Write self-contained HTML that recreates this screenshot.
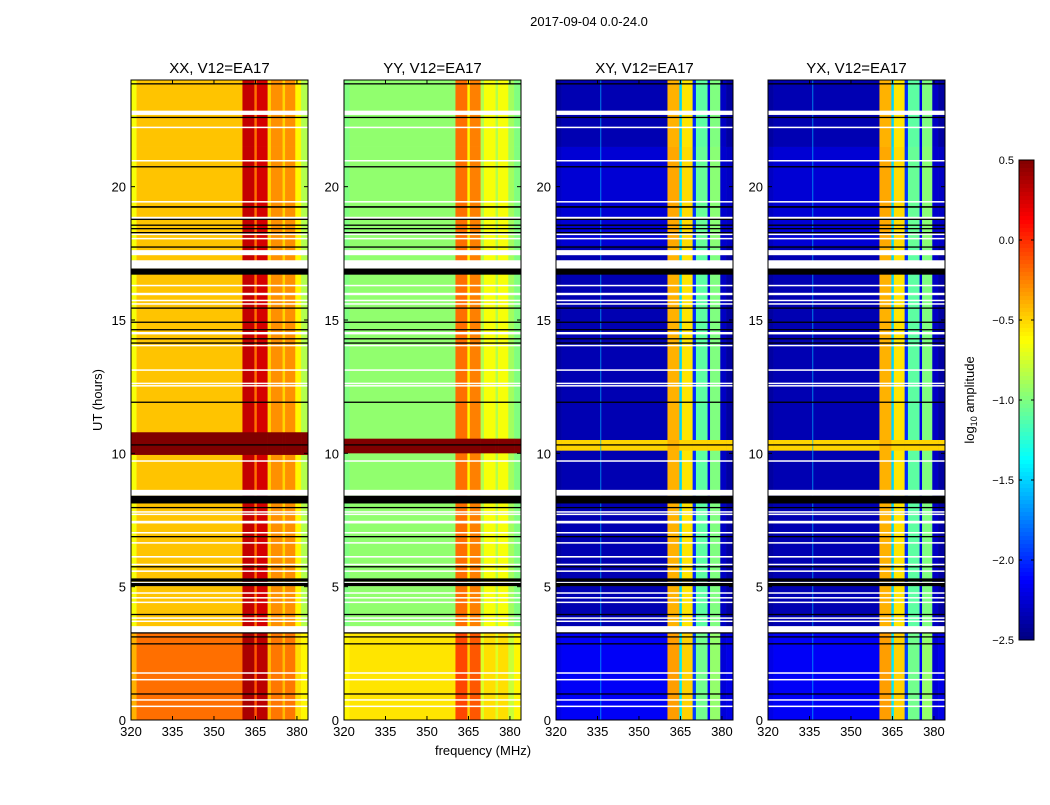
<!DOCTYPE html>
<html><head><meta charset="utf-8">
<style>
body{margin:0;background:#fff;}
svg text{font-family:"Liberation Sans",sans-serif;}
</style></head>
<body>
<svg id="fig" width="1050" height="800" xmlns="http://www.w3.org/2000/svg">
<rect width="1050" height="800" fill="#fff"/>
<text x="589" y="26" font-size="13" text-anchor="middle">2017-09-04 0.0-24.0</text>
<text x="0" y="0" font-size="13" text-anchor="middle" transform="translate(102,400) rotate(-90)">UT (hours)</text>
<text x="483" y="755" font-size="13" text-anchor="middle">frequency (MHz)</text>
<g id="panels"></g>
<g id="cbar"></g>
</svg>
<script>
const titles = ["XX, V12=EA17","YY, V12=EA17","XY, V12=EA17","YX, V12=EA17"];
const freqEdges = [320,322,360.3,364.6,365.5,369.4,370.6,374.8,375.7,379.4,381.5,384];
const levelsXX = [-0.65,-0.45,0.3,-0.2,0.25,-0.5,-0.3,-0.5,-0.3,-0.6,-0.85];
const levelsYY = [-1.0,-0.95,-0.2,-0.6,-0.25,-0.85,-0.65,-0.85,-0.65,-0.9,-1.0];
const levelsXY = [-2.4,-2.35,-0.4,-1.5,-0.55,-2.0,-1.1,-2.2,-1.0,-2.3,-2.4];
const levelsYX = [-2.4,-2.35,-0.4,-1.5,-0.55,-2.0,-1.1,-2.2,-1.0,-2.3,-2.4];
const earlyShift = [0.25,0.4,0.2,0.2];
const earlyEnd = 3.27;
const streakStart = 17.8;
const streakEnd = 21.5;
const streakShift = [0,0,0.1,0.1];
const rfiStart = [9.94,10.0,10.1,10.1];
const rfiEnd = [10.79,10.55,10.5,10.5];
const rfiLevel = [0.5,0.5,-0.5,-0.5];
const whiteRows = [[0.51,0.54],[0.74,0.78],[1.5,1.54],[1.75,1.79],[3.27,3.52],[3.69,3.73],[3.81,3.85],[4.40,4.44],[4.57,4.61],[4.75,4.79],[5.15,5.18],[5.57,5.61],[5.82,5.86],[6.09,6.15],[6.63,6.67],[7.01,7.05],[7.37,7.47],[7.70,7.74],[7.79,7.83],[8.41,8.63],[9.70,9.74],[12.52,12.56],[12.61,12.65],[13.11,13.15],[14.03,14.07],[14.46,14.55],[15.59,15.63],[15.72,15.76],[15.93,16.02],[16.28,16.32],[16.93,17.24],[17.43,17.62],[18.04,18.08],[18.20,18.24],[18.78,18.87],[19.42,19.46],[20.96,21.0],[22.21,22.25],[22.69,22.85]];
const blackRows = [[0.96,1.0],[2.84,2.88],[3.10,3.14],[3.25,3.29],[3.94,3.98],[5.02,5.14],[5.19,5.31],[5.73,5.77],[6.86,6.90],[7.95,7.99],[8.12,8.41],[10.30,10.34],[11.90,11.94],[14.12,14.16],[14.28,14.32],[14.62,14.66],[14.90,14.94],[15.43,15.47],[16.70,16.93],[17.72,17.76],[18.26,18.30],[18.41,18.45],[18.54,18.58],[18.76,18.80],[19.21,19.27],[20.73,20.77],[22.58,22.62],[23.84,23.88]];
const xTicks = [320,335,350,365,380];
const yTicks = [0,5,10,15,20];
const cbTicks = [0.5,0.0,-0.5,-1.0,-1.5,-2.0,-2.5];

const panelLeft = [131,344,556,768];
const PW = 177, PT = 80, PH = 640, FMIN = 320, FMAX = 384, TMAX = 24, VMIN = -2.5, VMAX = 0.5;
const NS = "http://www.w3.org/2000/svg";
function xs(i,f){return panelLeft[i] + (f-FMIN)/(FMAX-FMIN)*PW;}
function ys(t){return PT + PH - t/TMAX*PH;}
function jet(v){
  let x = Math.max(0,Math.min(1,(v-VMIN)/(VMAX-VMIN)));
  const r = Math.max(0,Math.min(1,Math.min(4*x-1.5,-4*x+4.5)));
  const g = Math.max(0,Math.min(1,Math.min(4*x-0.5,-4*x+3.5)));
  const b = Math.max(0,Math.min(1,Math.min(4*x+0.5,-4*x+2.5)));
  return `rgb(${Math.round(r*255)},${Math.round(g*255)},${Math.round(b*255)})`;
}
function mk(tag, attrs, parent){
  const e = document.createElementNS(NS, tag);
  for (const k in attrs) e.setAttribute(k, attrs[k]);
  parent.appendChild(e); return e;
}
const allLevels = [levelsXX,levelsYY,levelsXY,levelsYX];
const panels = document.getElementById('panels');
for (let p=0;p<4;p++){
  const g = mk('g',{},panels);
  
  
  const lv = allLevels[p];
  const segs = [[0,earlyEnd,earlyShift[p]],[earlyEnd,streakStart,0],[streakStart,streakEnd,streakShift[p]],[streakEnd,TMAX,0]];
  for (const s of segs){
    for (let j=0;j<lv.length;j++){
      const x0 = xs(p,freqEdges[j]), x1 = xs(p,freqEdges[j+1]);
      const base = (j===1||j===0||j===10) ? lv[j]+s[2] : lv[j]+s[2]*0.3;
      const r = mk('rect',{x:x0,y:ys(s[1]),width:x1-x0+0.3,height:ys(s[0])-ys(s[1])+0.3,fill:jet(base)},g);
      
      
    }
  }
  for (let j=0;j<lv.length;j++){
    const x0 = xs(p,freqEdges[j]), x1 = xs(p,freqEdges[j+1]);
    const v = p<2 ? rfiLevel[p] : Math.max(rfiLevel[p], lv[j]);
    const r = mk('rect',{x:x0,y:ys(rfiEnd[p]),width:x1-x0+0.3,height:ys(rfiStart[p])-ys(rfiEnd[p]),fill:jet(v)},g);
    
    
  }
  if (p>=2){
    const l = mk('rect',{x:xs(p,336),y:PT,width:1,height:PH,fill:jet(-1.6),opacity:0.7},g);
    
    
  }
  for (const w of whiteRows){
    const h = Math.max(1.5, ys(w[0])-ys(w[1]));
    const r = mk('rect',{x:panelLeft[p],y:ys(w[1]),width:PW,height:h,fill:'#fff'},g);
    
    
  }
  for (const b of blackRows){
    const h = Math.max(1.3, ys(b[0])-ys(b[1]));
    const r = mk('rect',{x:panelLeft[p],y:ys(b[1]),width:PW,height:h,fill:'#000'},g);
    
    
  }
  const fr = mk('rect',{x:panelLeft[p],y:PT,width:PW,height:PH,fill:'none',stroke:'#000','stroke-width':1},g);
  
  
  const t = mk('text',{x:panelLeft[p]+PW/2,y:PT-7,'font-size':15,'text-anchor':'middle'},g);
  t.textContent = titles[p];
  
  
  for (const f of xTicks){
    const x = xs(p,f);
    mk('line',{x1:x,x2:x,y1:PT+PH,y2:PT+PH-4,stroke:'#000'},g);
    mk('line',{x1:x,x2:x,y1:PT,y2:PT+4,stroke:'#000'},g);
    const tl = mk('text',{x:x,y:PT+PH+16,'font-size':13,'text-anchor':'middle'},g);
    tl.textContent = f;
    
    
  }
  for (const tv of yTicks){
    const y = ys(tv);
    mk('line',{x1:panelLeft[p],x2:panelLeft[p]+4,y1:y,y2:y,stroke:'#000'},g);
    mk('line',{x1:panelLeft[p]+PW,x2:panelLeft[p]+PW-4,y1:y,y2:y,stroke:'#000'},g);
    const tl = mk('text',{x:panelLeft[p]-5,y:y+5,'font-size':13,'text-anchor':'end'},g);
    tl.textContent = tv;
    
    
  }
}
const cb = document.getElementById('cbar');
const CX = 1019, CW = 15, CT = 160, CH = 480;
for (let i=0;i<120;i++){
  const v = VMAX - (i+0.5)/120*(VMAX-VMIN);
  mk('rect',{x:CX,y:CT+i*CH/120,width:CW,height:CH/120+0.5,fill:jet(v)},cb);
}
mk('rect',{x:CX,y:CT,width:CW,height:CH,fill:'none',stroke:'#000'},cb);
for (const v of cbTicks){
  const y = CT + (VMAX-v)/(VMAX-VMIN)*CH;
  mk('line',{x1:CX,x2:CX+3,y1:y,y2:y,stroke:'#000'},cb);
  mk('line',{x1:CX+CW-3,x2:CX+CW,y1:y,y2:y,stroke:'#000'},cb);
  const tl = mk('text',{x:CX-5,y:y+4,'font-size':11,'text-anchor':'end'},cb);
  tl.textContent = (v<0?'\u2212':'')+Math.abs(v).toFixed(1);
  
  
}
const cl = mk('text',{transform:'translate(974,400) rotate(-90)','font-size':13,'text-anchor':'middle'},cb);
cl.innerHTML = 'log<tspan font-size="9" dy="3">10</tspan><tspan dy="-3"> amplitude</tspan>';


</script>
</body></html>
